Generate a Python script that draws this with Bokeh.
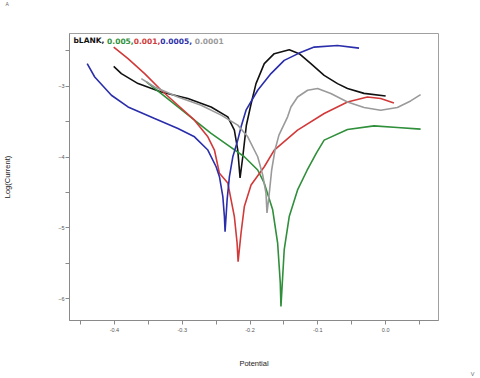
from bokeh.plotting import figure
from bokeh.models import Range1d, FixedTicker, Label, Title
from bokeh.embed import file_html
from bokeh.resources import INLINE

# ---- data (Potential in V, Log(Current)) ----
blank_x = [-0.4010, -0.3897, -0.3651, -0.3309, -0.2916, -0.2574, -0.2328, -0.2231, -0.2181, -0.2147,
           -0.2107, -0.2054, -0.1985, -0.1912, -0.1790, -0.1643, -0.1422, -0.1275, -0.1103, -0.0907,
           -0.0710, -0.0563, -0.0319, 0.0000]
blank_y = [-2.718, -2.821, -2.962, -3.080, -3.173, -3.292, -3.432, -3.620, -3.901, -4.296,
           -3.996, -3.550, -3.250, -2.962, -2.680, -2.539, -2.483, -2.539, -2.680, -2.845,
           -2.962, -3.030, -3.100, -3.137]

c0005_x = [-0.3529, -0.3309, -0.3063, -0.2819, -0.2574, -0.2328, -0.2084, -0.1887, -0.1790, -0.1666,
           -0.1593, -0.1554, -0.1544, -0.1496, -0.1422, -0.1299, -0.1160, -0.1020, -0.0907, -0.0563,
           -0.0172, 0.0172, 0.0515]
c0005_y = [-2.939, -3.103, -3.292, -3.479, -3.666, -3.831, -3.996, -4.183, -4.370, -4.746,
           -5.215, -5.779, -6.113, -5.310, -4.841, -4.465, -4.190, -3.940, -3.761, -3.610,
           -3.559, -3.582, -3.606]

c001_x = [-0.4010, -0.3799, -0.3554, -0.3309, -0.3063, -0.2819, -0.2622, -0.2525, -0.2451, -0.2328,
          -0.2231, -0.2191, -0.2176, -0.2132, -0.2084, -0.1985, -0.1790, -0.1643, -0.1299, -0.0907,
          -0.0563, -0.0269, -0.0074, 0.0122]
c001_y = [-2.446, -2.610, -2.821, -3.056, -3.268, -3.479, -3.714, -3.901, -4.230, -4.366,
          -4.841, -5.211, -5.479, -5.070, -4.700, -4.395, -4.137, -3.901, -3.620, -3.385,
          -3.221, -3.151, -3.173, -3.235]

c00005_x = [-0.4401, -0.4290, -0.4044, -0.3799, -0.3407, -0.3063, -0.2819, -0.2622, -0.2500, -0.2451,
            -0.2401, -0.2378, -0.2368, -0.2338, -0.2304, -0.2254, -0.2181, -0.2132, -0.2059, -0.1887,
            -0.1691, -0.1496, -0.1275, -0.1054, -0.0710, -0.0393]
c00005_y = [-2.680, -2.869, -3.127, -3.292, -3.455, -3.596, -3.714, -3.901, -4.137, -4.277,
            -4.559, -4.841, -5.056, -4.606, -4.277, -3.996, -3.761, -3.573, -3.338, -3.056,
            -2.821, -2.634, -2.531, -2.446, -2.423, -2.461]

c00001_x = [-0.3603, -0.3407, -0.3063, -0.2721, -0.2426, -0.2181, -0.2034, -0.1887, -0.1813, -0.1765,
            -0.1750, -0.1716, -0.1681, -0.1632, -0.1574, -0.1446, -0.1397, -0.1299, -0.1151, -0.1004,
            -0.0809, -0.0563, -0.0319, -0.0074, 0.0172, 0.0368, 0.0515]
c00001_y = [-2.892, -3.010, -3.151, -3.268, -3.408, -3.549, -3.714, -3.996, -4.254, -4.511,
            -4.789, -4.511, -4.183, -3.901, -3.690, -3.432, -3.292, -3.151, -3.056, -3.032,
            -3.103, -3.221, -3.300, -3.338, -3.300, -3.207, -3.117]

x_major = [-0.4, -0.3, -0.2, -0.1, 0.0]
x_minor = [-0.45, -0.35, -0.25, -0.15, -0.05, 0.05]
x_labels = {-0.4: "-0.4", -0.3: "-0.3", -0.2: "-0.2", -0.1: "-0.1", 0.0: "0.0"}
y_major = [-6, -5, -4, -3]
y_minor = [-5.5, -4.5, -3.5, -2.5]

series_names = ["bLANK,", "0.005,", "0.001,", "0.0005,", "0.0001"]
series_x = [blank_x, c0005_x, c001_x, c00005_x, c00001_x]
series_y = [blank_y, c0005_y, c001_y, c00005_y, c00001_y]
series_colors = ["#111111", "#2f8f3a", "#d23a3a", "#2a2eaa", "#9a9a9a"]

p = figure(width=480, height=378, output_backend="svg", toolbar_location=None,
           x_range=Range1d(-0.4662, 0.0779), y_range=Range1d(-6.310, -2.254),
           min_border_left=68, min_border_right=42, min_border_top=33, min_border_bottom=57)
p.background_fill_color = "white"
p.border_fill_color = "white"
p.outline_line_color = "#a0a0a0"
p.xgrid.visible = False
p.ygrid.visible = False

for ax, maj, mino in ((p.xaxis[0], x_major, x_minor), (p.yaxis[0], y_major, y_minor)):
    ax.ticker = FixedTicker(ticks=maj, minor_ticks=mino)
    ax.axis_line_color = "#8a8a8a"
    ax.major_tick_line_color = "#8a8a8a"
    ax.minor_tick_line_color = "#8a8a8a"
    ax.major_tick_out = 4
    ax.major_tick_in = 0
    ax.minor_tick_out = 4
    ax.minor_tick_in = 0
    ax.major_label_text_font = "Liberation Sans"
    ax.major_label_text_font_size = "5.5px"
    ax.major_label_text_color = "#555555"
    ax.axis_label_text_font = "Liberation Sans"
    ax.axis_label_text_font_size = "7.5px"
    ax.axis_label_text_font_style = "normal"
    ax.axis_label_text_color = "#222222"
p.xaxis.major_label_overrides = x_labels
p.xaxis.major_label_standoff = 3
p.yaxis.major_label_standoff = 1
p.xaxis.axis_label = "Potential"
p.yaxis.axis_label = "Log(Current)"
p.xaxis.axis_label_standoff = 24
p.yaxis.axis_label_standoff = 43

for xs, ys, col in zip(series_x, series_y, series_colors):
    p.line(xs, ys, line_color=col, line_width=1.6)

# legend-like text inside the frame
lx = [4, 37.6, 64.2, 90.8, 125.2]
for name, col, x0 in zip(series_names, series_colors, lx):
    p.add_layout(Label(x=x0, y=280, x_units="screen", y_units="screen", text=name,
                       text_font="DejaVu Sans", text_font_size="7.5px", text_color=col,
                       text_font_style="bold", text_baseline="middle"))

# spacer above the frame, then the corner letter
p.add_layout(Title(text=" ", standoff=17, text_font="Liberation Sans", text_font_size="5px",
                   text_color="#ffffff"), "above")
p.add_layout(Title(text="A", align="left", vertical_align="top", offset=-64, standoff=0,
                   text_font="Liberation Sans", text_font_size="5px", text_font_style="normal",
                   text_color="#666666"), "above")
p.add_layout(Title(text="V", align="right", vertical_align="top", offset=-36, standoff=0,
                   text_font="Liberation Sans", text_font_size="5.5px", text_font_style="normal",
                   text_color="#666666"), "below")

open("out.html", "w").write(file_html(p, INLINE))
